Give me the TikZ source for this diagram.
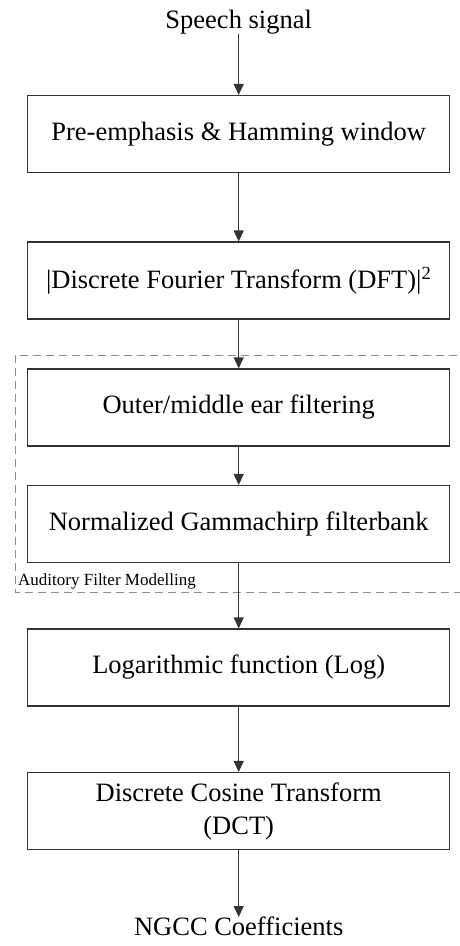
\documentclass[tikz,border=0pt]{standalone}
\usepackage{fontspec}
\setmainfont{Liberation Serif}
\usetikzlibrary{arrows.meta}
\begin{document}
\begin{tikzpicture}[x=1pt,y=-1pt,
  stage/.style={draw=black!80, line width=1.1pt, minimum width=422pt, minimum height=77pt,
    inner sep=0pt, align=center, font=\fontsize{26.5}{33}\selectfont},
  plain/.style={inner sep=0pt, font=\fontsize{26.5}{33}\selectfont},
  flow/.style={draw=black!80, line width=1.1pt, -{Triangle[length=11pt,width=10pt]}},
  group/.style={draw=black!45, line width=1pt, dash pattern=on 8pt off 5pt}]
  \useasboundingbox (0,0) rectangle (459,946);

  % input and output labels
  \node[plain, anchor=south] (sig) at (238.7,34) {Speech signal};
  \node[plain, anchor=north] (out) at (238.7,917) {NGCC Coefficients};

  % processing stages
  \node[stage] (pre) at (238.7,134) {Pre-emphasis \& Hamming window};
  \node[stage] (dft) at (238.7,280.5) {|Discrete Fourier Transform (DFT)|\textsuperscript{2}};
  \node[stage] (ear) at (238.7,407.5) {Outer/middle ear filtering};
  \node[stage] (gc)  at (238.7,524) {Normalized Gammachirp filterbank};
  \node[stage] (log) at (238.7,667.5) {Logarithmic function (Log)};
  \node[stage] (dct) at (238.7,811) {Discrete Cosine Transform\\(DCT)};

  % auditory filter group (open on the right)
  \draw[group] (470,355) -- (15,355) -- (15,592) -- (470,592);
  \node[inner sep=0pt, anchor=base west, font=\fontsize{17}{20}\selectfont] (grp) at (18,585)
    {Auditory Filter Modelling};

  % connectors
  \draw[flow] (sig) -- (pre);
  \draw[flow] (pre) -- (dft);
  \draw[flow] (dft) -- (ear);
  \draw[flow] (ear) -- (gc);
  \draw[flow] (gc) -- (log);
  \draw[flow] (log) -- (dct);
  \draw[flow] (dct) -- (out);
\end{tikzpicture}
\end{document}
